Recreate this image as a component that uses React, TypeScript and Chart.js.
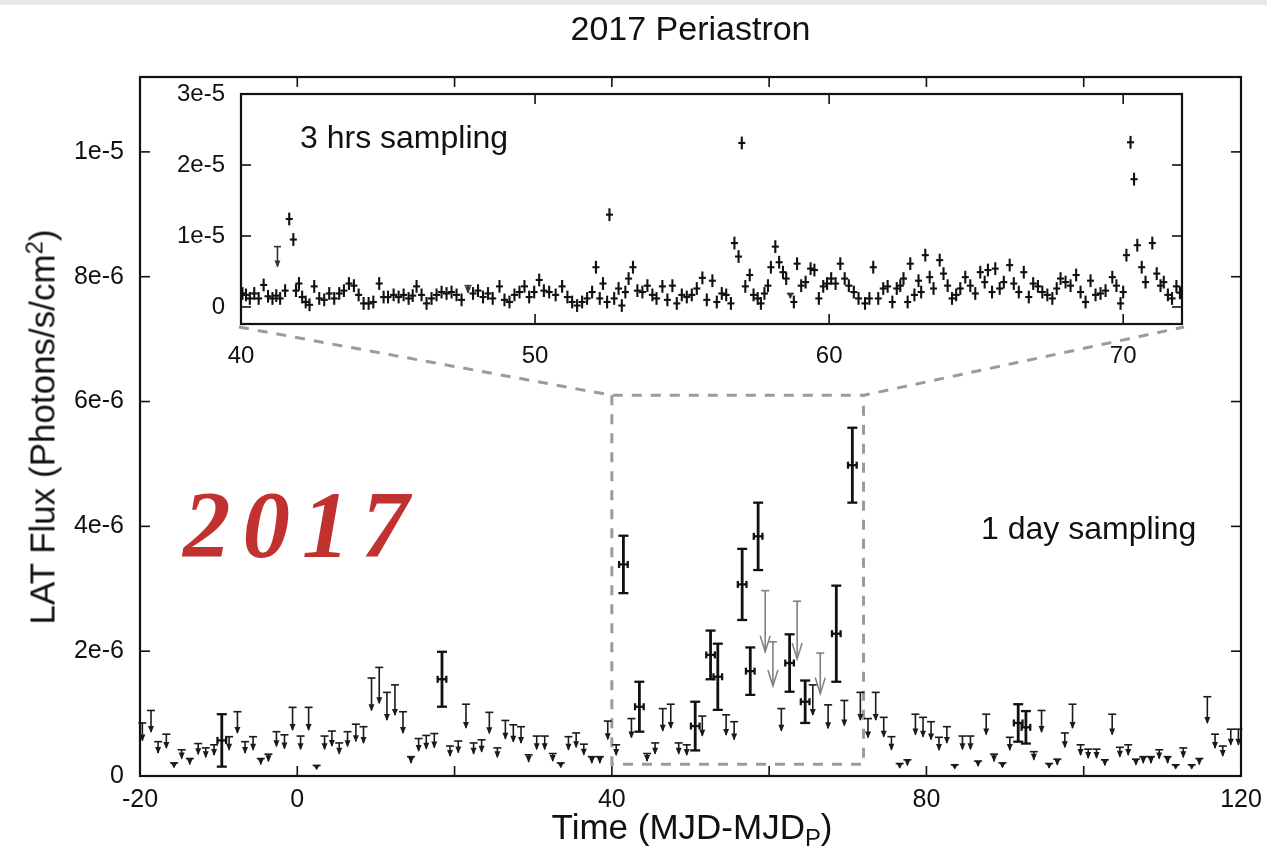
import { useEffect, useRef } from 'react';
import { Chart, registerables } from 'chart.js';

Chart.register(...registerables);

// ---------- 1-day binned light curve (flux in units of 1e-6 photons/s/cm^2) ----------
const dayDetTime = [-9.6, 18.4, 41.47, 43.5, 50.6, 52.55, 53.47, 56.57, 57.6, 58.6, 62.6, 64.58, 68.54, 70.58, 91.67, 92.65];
const dayDetFlux = [0.57, 1.55, 3.39, 1.11, 0.8, 1.94, 1.59, 3.07, 1.68, 3.84, 1.81, 1.19, 2.28, 4.98, 0.85, 0.78];
const dayDetErr = [0.42, 0.44, 0.46, 0.4, 0.39, 0.39, 0.53, 0.57, 0.38, 0.54, 0.46, 0.34, 0.77, 0.6, 0.3, 0.26];

const dayUlTime = [
  -19.7, -18.6, -17.7, -16.65, -15.67, -14.7, -13.67, -12.6, -11.64, -10.58, -8.67, -7.61, -6.64, -5.62, -4.64,
  -3.67, -2.65, -1.63, -0.6, 0.42, 1.44, 2.46, 3.47, 4.4, 5.33, 6.39, 7.45, 8.42, 9.44, 10.42, 11.4, 12.42, 13.44,
  14.46, 15.43, 16.4, 17.42, 19.42, 20.47, 21.45, 22.42, 23.44, 24.42, 25.44, 26.46, 27.47, 28.45, 29.42, 30.44,
  31.46, 32.48, 33.5, 34.48, 35.46, 36.43, 37.45, 38.47, 39.48, 40.55, 42.49, 44.48, 45.5, 46.47, 47.49, 48.5,
  49.52, 51.5, 54.53, 55.55, 61.55, 65.55, 67.5, 69.56, 71.6, 72.57, 73.55, 74.57, 75.55, 76.6, 77.58, 78.6,
  79.57, 80.59, 81.6, 82.6, 83.6, 84.58, 85.6, 86.57, 87.6, 88.6, 89.67, 90.6, 93.66, 94.64, 95.6, 96.64, 97.6,
  98.58, 99.6, 100.57, 101.63, 102.69, 103.62, 104.6, 105.66, 106.64, 107.57, 108.55, 109.6, 110.67, 111.69,
  112.66, 113.73, 114.7, 115.72, 116.7, 117.68, 118.7, 119.67,
];
const dayUlFlux = [
  0.85, 1.05, 0.55, 0.67, 0.21, 0.42, 0.28, 0.52, 0.45, 0.5, 0.63, 1.03, 0.55, 0.63, 0.28,
  0.35, 0.71, 0.66, 1.1, 0.64, 1.1, 0.17, 0.64, 0.72, 0.53, 0.71, 0.83, 0.79, 1.57, 1.74, 1.34, 1.46, 1.03,
  0.31, 0.6, 0.65, 0.68, 0.48, 0.56, 1.15, 0.53, 0.58, 1.02, 0.45, 0.89, 0.82, 0.79, 0.34, 0.64,
  0.64, 0.36, 0.21, 0.63, 0.69, 0.51, 0.31, 0.31, 0.88, 0.5, 0.92, 0.36, 0.53, 1.08, 1.15, 0.53,
  0.5, 0.96, 0.98, 0.87, 1.08, 1.46, 1.14, 1.21, 1.34, 0.92, 1.34, 0.94, 0.63, 0.2, 0.26, 0.99,
  0.94, 0.87, 0.62, 0.79, 0.18, 0.64, 0.64, 0.24, 0.99, 0.35, 0.21, 0.62, 0.39, 1.05, 0.2, 0.27, 0.69,
  1.15, 0.5, 0.43, 0.43, 0.26, 0.99, 0.46, 0.5, 0.27, 0.31, 0.31, 0.42, 0.31, 0.18,
  0.45, 0.18, 0.28, 1.27, 0.67, 0.48, 0.75, 0.75,
];
// upper limits from the alternative analysis (grey arrows)
const dayUlAltTime = [59.5, 60.48, 63.56, 66.5];
const dayUlAltFlux = [2.97, 2.15, 2.8, 1.97];

// ---------- 3-hour binned light curve (flux in units of 1e-6 photons/s/cm^2) ----------
const insetTime = [
  40.05, 40.17, 40.3, 40.45, 40.6, 40.77, 40.92, 41.07, 41.2, 41.33, 41.5, 41.64, 41.78, 41.87, 41.97, 42.08,
  42.2, 42.33, 42.49, 42.66, 42.83, 43.0, 43.17, 43.34, 43.5, 43.67, 43.84, 44.0, 44.17, 44.34, 44.5, 44.7,
  44.85, 45.0, 45.19, 45.36, 45.53, 45.7, 45.84, 45.97, 46.14, 46.31, 46.48, 46.65, 46.82, 46.99, 47.16, 47.33,
  47.5, 47.89, 48.06, 48.23, 48.4, 48.56, 48.79, 48.96, 49.13, 49.3, 49.47, 49.64, 49.8, 49.97, 50.14, 50.3,
  50.48, 50.7, 50.92, 51.1, 51.26, 51.43, 51.6, 51.77, 51.94, 52.07, 52.2, 52.31, 52.45, 52.53, 52.69, 52.84,
  52.95, 53.07, 53.18, 53.33, 53.48, 53.65, 53.82, 53.99, 54.13, 54.33, 54.5, 54.67, 54.82, 54.99, 55.16, 55.33,
  55.5, 55.69, 55.84, 56.03, 56.18, 56.35, 56.5, 56.66, 56.78, 56.92, 57.03, 57.15, 57.3, 57.43, 57.57, 57.68,
  57.8, 57.92, 58.02, 58.17, 58.3, 58.43, 58.54, 58.8, 58.91, 59.05, 59.2, 59.37, 59.5, 59.65, 59.8, 59.93,
  60.07, 60.22, 60.38, 60.53, 60.67, 60.84, 61.0, 61.22, 61.37, 61.5, 61.67, 61.84, 61.99, 62.15, 62.3, 62.42,
  62.53, 62.67, 62.76, 62.9, 63.04, 63.13, 63.27, 63.42, 63.55, 63.76, 63.89, 64.03, 64.18, 64.32, 64.46, 64.63,
  64.8, 64.97, 65.14, 65.29, 65.4, 65.54, 65.65, 65.8, 65.94, 66.14, 66.28, 66.45, 66.62, 66.79, 66.94, 67.1,
  67.25, 67.42, 67.59, 67.74, 67.87, 68.04, 68.21, 68.4, 68.55, 68.72, 68.89, 69.06, 69.23, 69.4, 69.63, 69.77,
  69.91, 70.0, 70.11, 70.25, 70.37, 70.48, 70.63, 70.76, 70.99, 71.14, 71.27, 71.38, 71.52, 71.66, 71.81, 71.93,
];
const insetFlux = [
  1.9, 1.7, 1.2, 1.9, 1.2, 3.1, 1.5, 1.2, 1.6, 1.2, 2.3, 12.4, 9.5, 2.3, 3.3, 1.4,
  0.7, 0.3, 2.9, 1.2, 1.0, 1.9, 1.2, 1.9, 2.3, 3.3, 3.0, 1.7, 0.5, 0.5, 0.7, 3.3,
  1.4, 1.4, 1.7, 1.4, 1.7, 1.2, 1.6, 2.9, 1.7, 0.5, 1.2, 1.7, 2.1, 1.9, 2.1, 1.7,
  1.0, 1.9, 2.3, 1.4, 1.9, 1.2, 2.9, 1.0, 0.7, 1.7, 2.1, 2.9, 1.4, 2.1, 3.8, 2.3,
  2.1, 1.7, 2.9, 1.4, 0.7, 0.2, 0.7, 1.2, 2.1, 5.6, 1.2, 3.3, 0.7, 13.0, 1.2, 2.6,
  0.2, 2.1, 4.0, 5.6, 2.3, 2.1, 3.0, 1.7, 1.2, 2.9, 1.0, 3.0, 0.5, 1.7, 1.4, 1.7,
  2.6, 4.1, 1.0, 3.7, 0.7, 1.9, 1.7, 0.5, 9.0, 7.1, 23.1, 2.9, 4.5, 1.7, 1.2, 0.5,
  1.9, 3.0, 5.6, 8.5, 6.3, 4.9, 4.0, 0.7, 6.1, 3.0, 3.5, 5.4, 5.2, 1.2, 2.9, 3.3,
  4.0, 3.3, 6.1, 4.0, 3.0, 2.1, 1.2, 0.5, 1.2, 5.6, 1.2, 2.6, 2.9, 0.7, 2.6, 3.0,
  4.0, 0.7, 6.1, 1.7, 3.7, 2.1, 7.3, 4.2, 2.6, 6.6, 4.7, 3.0, 1.2, 1.7, 2.6, 4.2,
  3.0, 1.9, 4.9, 3.5, 5.2, 2.1, 5.4, 2.6, 3.5, 5.9, 3.3, 2.1, 4.9, 1.4, 3.3, 2.9,
  2.1, 1.7, 1.2, 2.6, 4.0, 3.5, 3.0, 4.5, 2.1, 0.7, 3.7, 1.7, 1.9, 2.3, 4.2, 3.0,
  0.5, 2.1, 7.3, 23.2, 18.0, 8.7, 5.6, 3.5, 9.0, 4.7, 3.0, 3.5, 1.7, 1.2, 2.9, 2.0,
];
const INSET_ERR = 0.9;
const insetUlTime = [41.24, 47.72, 58.68];
const insetUlFlux = [8.5, 3.0, 1.9];

// ---------- axis ticks ----------
const mainXTicks = [-20, 0, 20, 40, 60, 80, 100, 120];
const mainXLabels = ['-20', '0', '', '40', '', '80', '', '120'];
const mainYTicks = [0, 2, 4, 6, 8, 10];
const mainYLabels = ['0', '2e-6', '4e-6', '6e-6', '8e-6', '1e-5'];
const insetXTicks = [40, 50, 60, 70];
const insetXLabels = ['40', '50', '60', '70'];
const insetYTicks = [0, 10, 20, 30];
const insetYLabels = ['0', '1e-5', '2e-5', '3e-5'];

// zoomed window shown by the inset
const ZOOM = { start: 40, end: 72, top: 6.1, bottom: 0.19 };

// ---------- layout ----------
const W = 1267;
const H = 857;
const PLOT = { left: 140, top: 77, right: 1241, bottom: 776 };
const INSET_BOX = { left: 241, top: 94, right: 1182, bottom: 324 };
const INSET_CANVAS = { left: 170, top: 80, width: 1020, height: 295 };
const UL_ARROW_FRACTION = 0.67;
const DET_HALF_DAY = 0.55;
const INSET_HALF_BIN = 0.12;
const FONT = '"Liberation Sans", Arial, Helvetica, sans-serif';
const INK = '#111';

function seg(ctx: CanvasRenderingContext2D, x1: number, y1: number, x2: number, y2: number) {
  ctx.beginPath();
  ctx.moveTo(x1, y1);
  ctx.lineTo(x2, y2);
  ctx.stroke();
}

function drawDetection(ctx: CanvasRenderingContext2D, xs: any, ys: any, t: number, f: number, e: number) {
  const cx = xs.getPixelForValue(t);
  const cy = ys.getPixelForValue(f);
  const top = ys.getPixelForValue(f + e);
  const bot = ys.getPixelForValue(f - e);
  const l = xs.getPixelForValue(t - DET_HALF_DAY);
  const r = xs.getPixelForValue(t + DET_HALF_DAY);
  ctx.strokeStyle = INK;
  ctx.lineWidth = 2.8;
  seg(ctx, cx, top, cx, bot);
  ctx.lineWidth = 2.3;
  seg(ctx, cx - 5, top, cx + 5, top);
  seg(ctx, cx - 5, bot, cx + 5, bot);
  seg(ctx, l, cy, r, cy);
  seg(ctx, l, cy - 3.5, l, cy + 3.5);
  seg(ctx, r, cy - 3.5, r, cy + 3.5);
}

function drawUpperLimit(
  ctx: CanvasRenderingContext2D, xs: any, ys: any, t: number, ul: number,
  color: string, openHead: boolean, capHalf: number,
) {
  const cx = xs.getPixelForValue(t);
  const top = ys.getPixelForValue(ul);
  const tip = ys.getPixelForValue(ul * UL_ARROW_FRACTION);
  ctx.strokeStyle = color;
  ctx.fillStyle = color;
  ctx.lineWidth = 1.6;
  seg(ctx, cx - capHalf, top, cx + capHalf, top);
  seg(ctx, cx, top, cx, tip);
  if (openHead) {
    const hl = Math.min(16, Math.max(6, tip - top));
    ctx.lineWidth = 1.5;
    ctx.beginPath();
    ctx.moveTo(cx - 5, tip - hl);
    ctx.lineTo(cx, tip);
    ctx.lineTo(cx + 5, tip - hl);
    ctx.stroke();
  } else {
    const hl = Math.min(6, Math.max(3.5, tip - top));
    ctx.beginPath();
    ctx.moveTo(cx, tip + 1);
    ctx.lineTo(cx - 3, tip - hl);
    ctx.lineTo(cx + 3, tip - hl);
    ctx.closePath();
    ctx.fill();
  }
}

function drawFrameAndTicks(
  ctx: CanvasRenderingContext2D, chart: any, xTicks: number[], yTicks: number[], len: number,
) {
  const { chartArea: ca, scales } = chart;
  ctx.save();
  ctx.setLineDash([]);
  ctx.strokeStyle = INK;
  ctx.lineWidth = 1.6;
  xTicks.forEach((v) => {
    const p = scales.x.getPixelForValue(v);
    seg(ctx, p, ca.bottom, p, ca.bottom - len);
    seg(ctx, p, ca.top, p, ca.top + len);
  });
  yTicks.forEach((v) => {
    const p = scales.y.getPixelForValue(v);
    seg(ctx, ca.left, p, ca.left + len, p);
    seg(ctx, ca.right, p, ca.right - len, p);
  });
  ctx.lineWidth = 2.2;
  ctx.strokeRect(ca.left, ca.top, ca.right - ca.left, ca.bottom - ca.top);
  ctx.restore();
}

const mainMarks = {
  id: 'mainMarks',
  afterDatasetsDraw(chart: any) {
    const { ctx, scales } = chart;
    const xs = scales.x;
    const ys = scales.y;
    const x0 = xs.getPixelForValue(ZOOM.start);
    const x1 = xs.getPixelForValue(ZOOM.end);
    const yT = ys.getPixelForValue(ZOOM.top);
    const yB = ys.getPixelForValue(ZOOM.bottom);

    // dashed guides linking the zoom window with the inset
    ctx.save();
    ctx.strokeStyle = '#9b9b9b';
    ctx.lineWidth = 3;
    ctx.setLineDash([10, 9]);
    ctx.beginPath();
    ctx.moveTo(INSET_BOX.left - 2, INSET_BOX.bottom + 3);
    ctx.lineTo(x0, yT);
    ctx.lineTo(x1, yT);
    ctx.lineTo(INSET_BOX.right + 2, INSET_BOX.bottom + 3);
    ctx.stroke();
    ctx.beginPath();
    ctx.moveTo(x0, yT);
    ctx.lineTo(x0, yB);
    ctx.lineTo(x1, yB);
    ctx.lineTo(x1, yT);
    ctx.stroke();
    ctx.restore();

    ctx.save();
    ctx.lineCap = 'butt';
    dayUlTime.forEach((t, i) => drawUpperLimit(ctx, xs, ys, t, dayUlFlux[i], '#1a1a1a', false, 4));
    dayUlAltTime.forEach((t, i) => drawUpperLimit(ctx, xs, ys, t, dayUlAltFlux[i], '#808080', true, 4));
    dayDetTime.forEach((t, i) => drawDetection(ctx, xs, ys, t, dayDetFlux[i], dayDetErr[i]));
    ctx.restore();

    drawFrameAndTicks(ctx, chart, mainXTicks, mainYTicks, 10);
  },
};

const insetMarks = {
  id: 'insetMarks',
  beforeDraw(chart: any) {
    const { ctx, chartArea: ca } = chart;
    ctx.save();
    ctx.fillStyle = '#ffffff';
    ctx.fillRect(ca.left, ca.top, ca.right - ca.left, ca.bottom - ca.top);
    ctx.restore();
  },
  afterDatasetsDraw(chart: any) {
    const { ctx, scales, chartArea: ca } = chart;
    const xs = scales.x;
    const ys = scales.y;
    ctx.save();
    ctx.beginPath();
    ctx.rect(ca.left, ca.top, ca.right - ca.left, ca.bottom - ca.top);
    ctx.clip();
    ctx.strokeStyle = INK;
    ctx.lineWidth = 2.1;
    insetTime.forEach((t, i) => {
      const f = insetFlux[i];
      const cx = xs.getPixelForValue(t);
      const cy = ys.getPixelForValue(f);
      seg(ctx, cx, ys.getPixelForValue(f + INSET_ERR), cx, ys.getPixelForValue(f - INSET_ERR));
      seg(ctx, xs.getPixelForValue(t - INSET_HALF_BIN), cy, xs.getPixelForValue(t + INSET_HALF_BIN), cy);
    });
    insetUlTime.forEach((t, i) => drawUpperLimit(ctx, xs, ys, t, insetUlFlux[i], '#333', false, 3.5));
    ctx.restore();
    drawFrameAndTicks(ctx, chart, insetXTicks, insetYTicks, 10);
  },
};

function hiddenGrid() {
  return { display: false, drawTicks: false };
}

// the plot box is placed explicitly, so tick labels must not push it around
function noLabelPadding(s: any) {
  s.paddingLeft = 0;
  s.paddingRight = 0;
  s.paddingTop = 0;
  s.paddingBottom = 0;
}

export default function App() {
  const mainRef = useRef<HTMLCanvasElement>(null);
  const insetRef = useRef<HTMLCanvasElement>(null);

  useEffect(() => {
    document.body.style.margin = '0';
    Chart.defaults.font.family = FONT;
    Chart.defaults.color = INK;

    const main = new Chart(mainRef.current as HTMLCanvasElement, {
      type: 'scatter',
      data: {
        datasets: [
          { label: '1 day detections', data: dayDetTime.map((t, i) => ({ x: t, y: dayDetFlux[i] })), pointRadius: 0 },
          { label: '1 day upper limits', data: dayUlTime.map((t, i) => ({ x: t, y: dayUlFlux[i] })), pointRadius: 0 },
          { label: '1 day upper limits (alt)', data: dayUlAltTime.map((t, i) => ({ x: t, y: dayUlAltFlux[i] })), pointRadius: 0 },
        ],
      },
      options: {
        responsive: false,
        animation: false,
        events: [],
        layout: { padding: { left: 0, right: W - PLOT.right, top: 0, bottom: 0 } },
        plugins: {
          legend: { display: false },
          tooltip: { enabled: false },
          title: {
            display: true,
            text: '2017 Periastron',
            fullSize: false,
            color: INK,
            font: { size: 34, weight: 'normal', family: FONT, lineHeight: 1.2 },
            padding: { top: 10, bottom: PLOT.top - 10 - 34 * 1.2 },
          },
        },
        scales: {
          x: {
            type: 'linear',
            min: -20,
            max: 120,
            grid: hiddenGrid(),
            border: { display: false },
            afterBuildTicks: (s: any) => { s.ticks = mainXTicks.map((v) => ({ value: v })); },
            afterFit: (s: any) => { s.height = H - PLOT.bottom; noLabelPadding(s); },
            ticks: {
              padding: 9,
              autoSkip: false,
              maxRotation: 0,
              color: INK,
              font: { size: 25 },
              callback: (_v: any, i: number) => mainXLabels[i],
            },
          },
          y: {
            type: 'linear',
            min: 0,
            max: 11.2,
            grid: hiddenGrid(),
            border: { display: false },
            afterBuildTicks: (s: any) => { s.ticks = mainYTicks.map((v) => ({ value: v })); },
            afterFit: (s: any) => { s.width = PLOT.left; noLabelPadding(s); },
            ticks: {
              padding: 16,
              autoSkip: false,
              color: INK,
              font: { size: 25 },
              callback: (_v: any, i: number) => mainYLabels[i],
            },
          },
        },
      },
      plugins: [mainMarks],
    } as any);

    const inset = new Chart(insetRef.current as HTMLCanvasElement, {
      type: 'scatter',
      data: {
        datasets: [
          { label: '3 hrs', data: insetTime.map((t, i) => ({ x: t, y: insetFlux[i] })), pointRadius: 0 },
          { label: '3 hrs upper limits', data: insetUlTime.map((t, i) => ({ x: t, y: insetUlFlux[i] })), pointRadius: 0 },
        ],
      },
      options: {
        responsive: false,
        animation: false,
        events: [],
        layout: {
          padding: {
            left: 0,
            top: INSET_BOX.top - INSET_CANVAS.top,
            right: INSET_CANVAS.left + INSET_CANVAS.width - INSET_BOX.right,
            bottom: 0,
          },
        },
        plugins: { legend: { display: false }, tooltip: { enabled: false } },
        scales: {
          x: {
            type: 'linear',
            min: ZOOM.start,
            max: ZOOM.end,
            grid: hiddenGrid(),
            border: { display: false },
            afterBuildTicks: (s: any) => { s.ticks = insetXTicks.map((v) => ({ value: v })); },
            afterFit: (s: any) => { s.height = INSET_CANVAS.top + INSET_CANVAS.height - INSET_BOX.bottom; noLabelPadding(s); },
            ticks: {
              padding: 18,
              autoSkip: false,
              maxRotation: 0,
              color: INK,
              font: { size: 24 },
              callback: (_v: any, i: number) => insetXLabels[i],
            },
          },
          y: {
            type: 'linear',
            min: -2.4,
            max: 30,
            grid: hiddenGrid(),
            border: { display: false },
            afterBuildTicks: (s: any) => { s.ticks = insetYTicks.map((v) => ({ value: v })); },
            afterFit: (s: any) => { s.width = INSET_BOX.left - INSET_CANVAS.left; noLabelPadding(s); },
            ticks: {
              padding: 16,
              autoSkip: false,
              color: INK,
              font: { size: 24 },
              callback: (_v: any, i: number) => insetYLabels[i],
            },
          },
        },
      },
      plugins: [insetMarks],
    } as any);

    return () => {
      main.destroy();
      inset.destroy();
    };
  }, []);

  const abs = { position: 'absolute' as const, whiteSpace: 'nowrap' as const, lineHeight: 1, color: INK, fontFamily: FONT };

  return (
    <div style={{ position: 'relative', width: W, height: H, background: '#fff', overflow: 'hidden' }}>
      <div style={{ position: 'absolute', left: 0, top: 0, width: W, height: 5, background: '#e8e8e6' }} />
      <canvas ref={mainRef} width={W} height={H} style={{ position: 'absolute', left: 0, top: 0, display: 'block' }} />
      <canvas
        ref={insetRef}
        width={INSET_CANVAS.width}
        height={INSET_CANVAS.height}
        style={{ position: 'absolute', left: INSET_CANVAS.left, top: INSET_CANVAS.top, display: 'block' }}
      />
      <div style={{ ...abs, left: 300, top: 121, fontSize: 32 }}>3 hrs sampling</div>
      <div style={{ ...abs, left: 981, top: 512, fontSize: 32 }}>1 day sampling</div>
      <div style={{ ...abs, left: 692, top: 809, fontSize: 35, transform: 'translateX(-50%)' }}>
        Time (MJD-MJD<sub style={{ fontSize: '0.68em', verticalAlign: '-0.28em', lineHeight: 0 }}>P</sub>)
      </div>
      <div style={{ ...abs, left: 42, top: 427, fontSize: 35, transform: 'translate(-50%, -50%) rotate(-90deg)' }}>
        LAT Flux (Photons/s/cm<sup style={{ fontSize: '0.68em', verticalAlign: '0.5em', lineHeight: 0 }}>2</sup>)
      </div>
      <div
        style={{
          ...abs,
          left: 183,
          top: 478,
          fontSize: 95,
          fontFamily: '"Liberation Serif", "Times New Roman", serif',
          fontStyle: 'italic',
          fontWeight: 'bold',
          letterSpacing: 12,
          color: '#c1312f',
        }}
      >
        2017
      </div>
    </div>
  );
}
